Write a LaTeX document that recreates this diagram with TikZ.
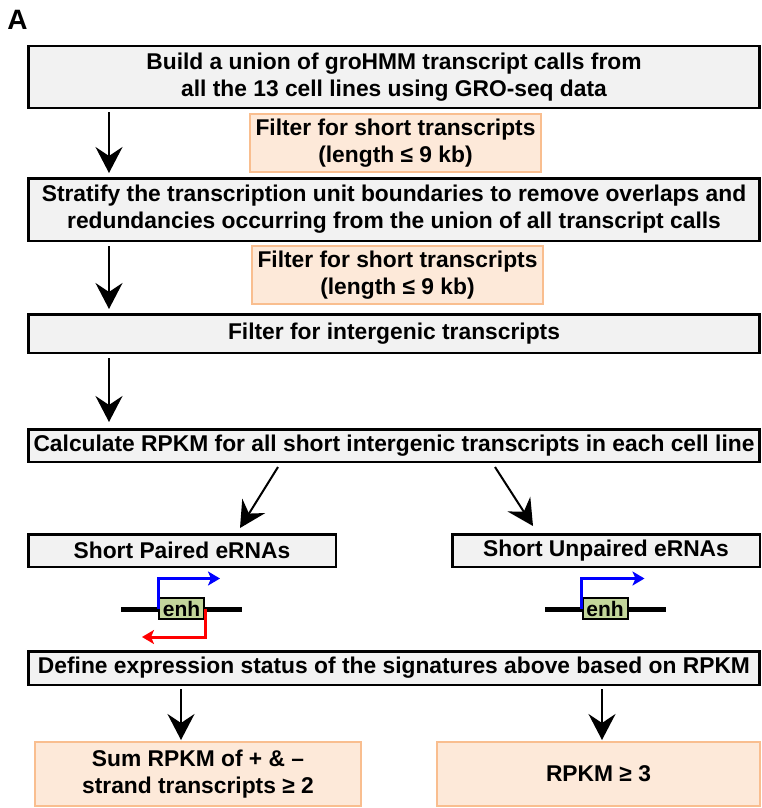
\documentclass[tikz,border=0pt]{standalone}
\usepackage{fontspec}
\setmainfont{Liberation Sans}
\usepackage[HTML]{xcolor}
\usepackage{tikz}
\usetikzlibrary{positioning, arrows, arrows.meta}
\definecolor{boxgray}{HTML}{F2F2F2}
\definecolor{filterfill}{HTML}{FDE9D9}
\definecolor{filterline}{HTML}{F9BE8F}
\definecolor{enhgreen}{HTML}{C3D69B}
\newcommand{\boxfont}{\fontsize{22.8}{27}\selectfont\bfseries}

\begin{document}
\begin{tikzpicture}[x=1pt,y=-1pt,
mainbox/.style={draw, line width=2.5pt, fill=boxgray, align=center, inner sep=0pt, font=\boxfont},
filterbox/.style={draw=filterline, line width=2pt, fill=filterfill, align=center, inner sep=0pt, font=\boxfont},
enhbox/.style={draw, line width=2pt, fill=enhgreen, inner sep=0pt, minimum width=45pt, minimum height=21pt, font=\fontsize{21}{21}\selectfont\bfseries},
arr/.style={-{Stealth[length=26pt,width=27pt,inset=9pt]}, line width=2pt},
dna/.style={line width=5pt},
tss/.style={-{Stealth[length=12pt,width=14pt,inset=3pt]}, line width=3pt}]
\useasboundingbox (0,0) rectangle (762,808);
\node[font=\fontsize{28}{28}\selectfont\bfseries] (panel) at (17.5,20) {A};
\node[mainbox, minimum width=731pt, minimum height=61.5pt] (union) at (394,77) {Build a union of groHMM transcript calls from\\all the 13 cell lines using GRO-seq data};
\node[filterbox, minimum width=291pt, minimum height=58pt] (len1) at (395.5,143) {Filter for short transcripts\\(length ≤ 9 kb)};
\node[mainbox, minimum width=731pt, minimum height=62.5pt] (strat) at (394,209.5) {Stratify the transcription unit boundaries to remove overlaps and\\redundancies occurring from the union of all transcript calls};
\node[filterbox, minimum width=291pt, minimum height=58pt] (len2) at (397.5,275) {Filter for short transcripts\\(length ≤ 9 kb)};
\node[mainbox, minimum width=731pt, minimum height=38.5pt] (inter) at (394,333.5) {Filter for intergenic transcripts};
\node[mainbox, minimum width=731pt, minimum height=32.5pt] (rpkm) at (394,445.5) {Calculate RPKM for all short intergenic transcripts in each cell line};
\node[mainbox, minimum width=307.5pt, minimum height=32.5pt] (paired) at (182,550.5) {Short Paired eRNAs};
\node[mainbox, minimum width=307.5pt, minimum height=32.5pt] (unpaired) at (606,550.5) {Short Unpaired eRNAs};
\draw[dna] (121,609) -- (242,609);
\draw[dna] (545,609) -- (666,609);
\node[enhbox] (enh1) at (181.5,608.5) {enh};
\node[enhbox] (enh2) at (605,608.5) {enh};
\draw[tss, blue] (enh1.west) |- ++(62,-30);
\draw[tss, red] (enh1.east) |- ++(-63,28.5);
\draw[tss, blue] (enh2.west) |- ++(63,-30);
\node[mainbox, minimum width=731pt, minimum height=33.5pt] (status) at (394,668) {Define expression status of the signatures above based on RPKM};
\node[filterbox, minimum width=326pt, minimum height=64pt] (sumcut) at (198,774) {Sum RPKM of + \& –\\strand transcripts ≥ 2};
\node[filterbox, minimum width=323pt, minimum height=64pt] (onecut) at (598.5,774) {RPKM ≥ 3};
\coordinate (lft) at (109,0);
\draw[arr, shorten <=3pt, shorten >=4pt] (union.south -| lft) -- (strat.north -| lft);
\draw[arr, shorten <=4pt, shorten >=4pt] (strat.south -| lft) -- (inter.north -| lft);
\draw[arr, shorten <=4pt, shorten >=6pt] (inter.south -| lft) -- (rpkm.north -| lft);
\draw[arr] ([xshift=-116pt,yshift=-4pt]rpkm.south) -- ([xshift=58pt,yshift=5pt]paired.north);
\draw[arr] ([xshift=101pt,yshift=-4pt]rpkm.south) -- ([xshift=-73pt,yshift=7pt]unpaired.north);
\draw[arr, shorten <=3pt, shorten >=1pt] ([xshift=-213pt]status.south) -- ([xshift=-17pt]sumcut.north);
\draw[arr, shorten <=3pt, shorten >=1pt] ([xshift=208pt]status.south) -- ([xshift=3.5pt]onecut.north);
\end{tikzpicture}
\end{document}
